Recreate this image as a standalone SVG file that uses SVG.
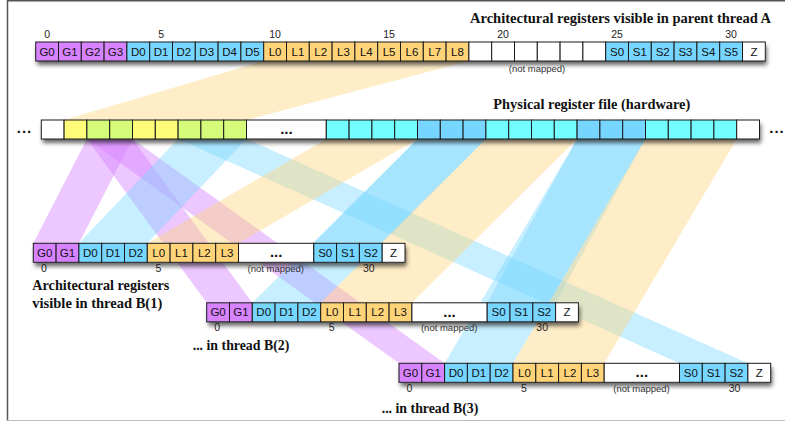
<svg xmlns="http://www.w3.org/2000/svg" width="785" height="425" viewBox="0 0 785 425">
<defs>
<filter id="sh" x="-5%" y="-60%" width="112%" height="260%">
<feDropShadow dx="1.5" dy="4" stdDeviation="2.2" flood-color="#000" flood-opacity="0.6"/>
</filter>
</defs>
<style>
.c rect{stroke:#1a1a1a;stroke-width:1}
.G{fill:#d783ff}.D{fill:#76d6ff}.L{fill:#ffd479}.W{fill:#fff}.Y{fill:#fffc79}.N{fill:#d4fb79}.C{fill:#73fdff}
.t{font-family:"Liberation Sans",Arial,sans-serif;font-size:11.5px;text-anchor:middle;fill:#111}
.n{font-family:"Liberation Sans",Arial,sans-serif;font-size:10.5px;text-anchor:middle;fill:#222}
.nm{font-family:"Liberation Sans",Arial,sans-serif;font-size:9.5px;text-anchor:middle;fill:#333}
.h{font-family:"Liberation Serif","Times New Roman",serif;font-weight:bold;font-size:14px;fill:#111}
.dots{font-family:"Liberation Sans",Arial,sans-serif;font-weight:bold;font-size:15px;text-anchor:middle;fill:#111}
.bp{fill:#d783ff;fill-opacity:0.45}
.bb{fill:#76d6ff;fill-opacity:0.4}
.bo{fill:#ffd479;fill-opacity:0.42}
</style>

<g id="frame" fill="none">
<path d="M7.5,421 V0.8 H785" stroke="#555" stroke-width="1.5"/>
<line x1="7" y1="420.5" x2="785" y2="420.5" stroke="#bbb" stroke-width="1"/>
</g>

<g id="connectors">
<polygon class="bo" points="263.7,61 468.9,61 246.5,120 64.1,120"/>
<polygon class="bp" points="86.9,139 132.5,139 78.9,243.3 33.3,243.3"/>
<polygon class="bp" points="86.9,139 132.5,139 252.3,302.8 206.7,302.8"/>
<polygon class="bp" points="86.9,139 132.5,139 444.6,363.3 399,363.3"/>
<polygon class="bb" points="178.1,139 246.5,139 147.3,243.3 78.9,243.3"/>
<polygon class="bb" points="178.1,139 246.5,139 747.9,363.3 679.5,363.3"/>
<polygon class="bb" points="417.5,139 485.9,139 382.2,243.3 313.8,243.3"/>
<polygon class="bb" points="417.5,139 485.9,139 320.7,302.8 252.3,302.8"/>
<polygon class="bb" points="577.1,139 645.5,139 555.6,302.8 487.2,302.8"/>
<polygon class="bb" points="577.1,139 645.5,139 513,363.3 444.6,363.3"/>
<polygon class="bo" points="326.3,139 417.5,139 238.5,243.3 147.3,243.3"/>
<polygon class="bo" points="485.9,139 577.1,139 411.9,302.8 320.7,302.8"/>
<polygon class="bo" points="645.5,139 736.7,139 604.2,363.3 513,363.3"/>
</g>

<g id="rowA">
<text class="h" x="470" y="23.3" textLength="301" lengthAdjust="spacingAndGlyphs">Architectural registers visible in parent thread A</text>
<rect class="W" x="35.7" y="42" width="729.6" height="19" filter="url(#sh)"/>
<g class="c">
<rect class="G" x="35.7" y="42" width="22.8" height="19"/>
<rect class="G" x="58.5" y="42" width="22.8" height="19"/>
<rect class="G" x="81.3" y="42" width="22.8" height="19"/>
<rect class="G" x="104.1" y="42" width="22.8" height="19"/>
<rect class="D" x="126.9" y="42" width="22.8" height="19"/>
<rect class="D" x="149.7" y="42" width="22.8" height="19"/>
<rect class="D" x="172.5" y="42" width="22.8" height="19"/>
<rect class="D" x="195.3" y="42" width="22.8" height="19"/>
<rect class="D" x="218.1" y="42" width="22.8" height="19"/>
<rect class="D" x="240.9" y="42" width="22.8" height="19"/>
<rect class="L" x="263.7" y="42" width="22.8" height="19"/>
<rect class="L" x="286.5" y="42" width="22.8" height="19"/>
<rect class="L" x="309.3" y="42" width="22.8" height="19"/>
<rect class="L" x="332.1" y="42" width="22.8" height="19"/>
<rect class="L" x="354.9" y="42" width="22.8" height="19"/>
<rect class="L" x="377.7" y="42" width="22.8" height="19"/>
<rect class="L" x="400.5" y="42" width="22.8" height="19"/>
<rect class="L" x="423.3" y="42" width="22.8" height="19"/>
<rect class="L" x="446.1" y="42" width="22.8" height="19"/>
<rect class="W" x="468.9" y="42" width="22.8" height="19"/>
<rect class="W" x="491.7" y="42" width="22.8" height="19"/>
<rect class="W" x="514.5" y="42" width="22.8" height="19"/>
<rect class="W" x="537.3" y="42" width="22.8" height="19"/>
<rect class="W" x="560.1" y="42" width="22.8" height="19"/>
<rect class="W" x="582.9" y="42" width="22.8" height="19"/>
<rect class="D" x="605.7" y="42" width="22.8" height="19"/>
<rect class="D" x="628.5" y="42" width="22.8" height="19"/>
<rect class="D" x="651.3" y="42" width="22.8" height="19"/>
<rect class="D" x="674.1" y="42" width="22.8" height="19"/>
<rect class="D" x="696.9" y="42" width="22.8" height="19"/>
<rect class="D" x="719.7" y="42" width="22.8" height="19"/>
<rect class="W" x="742.5" y="42" width="22.8" height="19"/>
</g>
<g class="t">
<text x="47.1" y="55.5">G0</text><text x="69.9" y="55.5">G1</text><text x="92.7" y="55.5">G2</text><text x="115.5" y="55.5">G3</text>
<text x="138.3" y="55.5">D0</text><text x="161.1" y="55.5">D1</text><text x="183.9" y="55.5">D2</text><text x="206.7" y="55.5">D3</text><text x="229.5" y="55.5">D4</text><text x="252.3" y="55.5">D5</text>
<text x="275.1" y="55.5">L0</text><text x="297.9" y="55.5">L1</text><text x="320.7" y="55.5">L2</text><text x="343.5" y="55.5">L3</text><text x="366.3" y="55.5">L4</text><text x="389.1" y="55.5">L5</text><text x="411.9" y="55.5">L6</text><text x="434.7" y="55.5">L7</text><text x="457.5" y="55.5">L8</text>
<text x="617.1" y="55.5">S0</text><text x="639.9" y="55.5">S1</text><text x="662.7" y="55.5">S2</text><text x="685.5" y="55.5">S3</text><text x="708.3" y="55.5">S4</text><text x="731.1" y="55.5">S5</text>
<text x="753.9" y="55.5">Z</text>
</g>
<g class="n">
<text x="47.1" y="37.7">0</text><text x="161.1" y="37.7">5</text><text x="275.1" y="37.7">10</text><text x="389.1" y="37.7">15</text><text x="503.1" y="37.7">20</text><text x="617.1" y="37.7">25</text><text x="731.1" y="37.7">30</text>
</g>
<text class="nm" x="537" y="71.7">(not mapped)</text>
</g>

<g id="physical">
<text class="h" x="493.3" y="109" textLength="197" lengthAdjust="spacingAndGlyphs">Physical register file (hardware)</text>
<text class="dots" x="24.5" y="133" letter-spacing="1">...</text>
<text class="dots" x="777" y="133" letter-spacing="1">...</text>
<rect class="W" x="41.3" y="120" width="718.2" height="19" filter="url(#sh)"/>
<g class="c">
<rect class="W" x="41.3" y="120" width="22.8" height="19"/>
<rect class="Y" x="64.1" y="120" width="22.8" height="19"/>
<rect class="N" x="86.9" y="120" width="22.8" height="19"/>
<rect class="N" x="109.7" y="120" width="22.8" height="19"/>
<rect class="Y" x="132.5" y="120" width="22.8" height="19"/>
<rect class="Y" x="155.3" y="120" width="22.8" height="19"/>
<rect class="N" x="178.1" y="120" width="22.8" height="19"/>
<rect class="N" x="200.9" y="120" width="22.8" height="19"/>
<rect class="N" x="223.7" y="120" width="22.8" height="19"/>
<rect class="W" x="246.5" y="120" width="79.8" height="19"/>
<rect class="C" x="326.3" y="120" width="22.8" height="19"/>
<rect class="C" x="349.1" y="120" width="22.8" height="19"/>
<rect class="C" x="371.9" y="120" width="22.8" height="19"/>
<rect class="C" x="394.7" y="120" width="22.8" height="19"/>
<rect class="D" x="417.5" y="120" width="22.8" height="19"/>
<rect class="D" x="440.3" y="120" width="22.8" height="19"/>
<rect class="D" x="463.1" y="120" width="22.8" height="19"/>
<rect class="C" x="485.9" y="120" width="22.8" height="19"/>
<rect class="C" x="508.7" y="120" width="22.8" height="19"/>
<rect class="C" x="531.5" y="120" width="22.8" height="19"/>
<rect class="C" x="554.3" y="120" width="22.8" height="19"/>
<rect class="D" x="577.1" y="120" width="22.8" height="19"/>
<rect class="D" x="599.9" y="120" width="22.8" height="19"/>
<rect class="D" x="622.7" y="120" width="22.8" height="19"/>
<rect class="C" x="645.5" y="120" width="22.8" height="19"/>
<rect class="C" x="668.3" y="120" width="22.8" height="19"/>
<rect class="C" x="691.1" y="120" width="22.8" height="19"/>
<rect class="C" x="713.9" y="120" width="22.8" height="19"/>
<rect class="W" x="736.7" y="120" width="22.8" height="19"/>
</g>
<text class="dots" x="286.4" y="134">...</text>
</g>

<g id="rowB1" transform="translate(33.3,243.3)">
<rect class="W" width="371.7" height="19" filter="url(#sh)"/>
<g class="c">
<rect class="G" x="0" width="22.8" height="19"/><rect class="G" x="22.8" width="22.8" height="19"/>
<rect class="D" x="45.6" width="22.8" height="19"/><rect class="D" x="68.4" width="22.8" height="19"/><rect class="D" x="91.2" width="22.8" height="19"/>
<rect class="L" x="114" width="22.8" height="19"/><rect class="L" x="136.8" width="22.8" height="19"/><rect class="L" x="159.6" width="22.8" height="19"/><rect class="L" x="182.4" width="22.8" height="19"/>
<rect class="W" x="205.2" width="75.3" height="19"/>
<rect class="D" x="280.5" width="22.8" height="19"/><rect class="D" x="303.3" width="22.8" height="19"/><rect class="D" x="326.1" width="22.8" height="19"/>
<rect class="W" x="348.9" width="22.8" height="19"/>
</g>
<g class="t">
<text x="11.4" y="13.5">G0</text><text x="34.2" y="13.5">G1</text><text x="57" y="13.5">D0</text><text x="79.8" y="13.5">D1</text><text x="102.6" y="13.5">D2</text>
<text x="125.4" y="13.5">L0</text><text x="148.2" y="13.5">L1</text><text x="171" y="13.5">L2</text><text x="193.8" y="13.5">L3</text>
<text x="291.9" y="13.5">S0</text><text x="314.7" y="13.5">S1</text><text x="337.5" y="13.5">S2</text><text x="360.3" y="13.5">Z</text>
</g>
<text class="dots" x="242.85" y="14">...</text>
<g class="n"><text x="10.5" y="28.5">0</text><text x="125" y="28.5">5</text><text x="335.5" y="28.5">30</text></g>
<text class="nm" x="242.5" y="28.5">(not mapped)</text>
</g>
<g id="labelB1">
<text class="h" x="32.3" y="289.7" textLength="137" lengthAdjust="spacingAndGlyphs">Architectural registers</text>
<text class="h" x="32.3" y="308" textLength="130" lengthAdjust="spacingAndGlyphs">visible in thread B(1)</text>
</g>

<g id="rowB2" transform="translate(206.7,302.8)">
<rect class="W" width="371.7" height="19" filter="url(#sh)"/>
<g class="c">
<rect class="G" x="0" width="22.8" height="19"/><rect class="G" x="22.8" width="22.8" height="19"/>
<rect class="D" x="45.6" width="22.8" height="19"/><rect class="D" x="68.4" width="22.8" height="19"/><rect class="D" x="91.2" width="22.8" height="19"/>
<rect class="L" x="114" width="22.8" height="19"/><rect class="L" x="136.8" width="22.8" height="19"/><rect class="L" x="159.6" width="22.8" height="19"/><rect class="L" x="182.4" width="22.8" height="19"/>
<rect class="W" x="205.2" width="75.3" height="19"/>
<rect class="D" x="280.5" width="22.8" height="19"/><rect class="D" x="303.3" width="22.8" height="19"/><rect class="D" x="326.1" width="22.8" height="19"/>
<rect class="W" x="348.9" width="22.8" height="19"/>
</g>
<g class="t">
<text x="11.4" y="13.5">G0</text><text x="34.2" y="13.5">G1</text><text x="57" y="13.5">D0</text><text x="79.8" y="13.5">D1</text><text x="102.6" y="13.5">D2</text>
<text x="125.4" y="13.5">L0</text><text x="148.2" y="13.5">L1</text><text x="171" y="13.5">L2</text><text x="193.8" y="13.5">L3</text>
<text x="291.9" y="13.5">S0</text><text x="314.7" y="13.5">S1</text><text x="337.5" y="13.5">S2</text><text x="360.3" y="13.5">Z</text>
</g>
<text class="dots" x="242.85" y="14">...</text>
<g class="n"><text x="10.5" y="28.5">0</text><text x="125" y="28.5">5</text><text x="335.5" y="28.5">30</text></g>
<text class="nm" x="242.5" y="28.5">(not mapped)</text>
</g>
<g id="labelB2">
<text class="h" x="192.7" y="349.7" textLength="96.6" lengthAdjust="spacingAndGlyphs">... in thread B(2)</text>
</g>

<g id="rowB3" transform="translate(399,363.3)">
<rect class="W" width="371.7" height="19" filter="url(#sh)"/>
<g class="c">
<rect class="G" x="0" width="22.8" height="19"/><rect class="G" x="22.8" width="22.8" height="19"/>
<rect class="D" x="45.6" width="22.8" height="19"/><rect class="D" x="68.4" width="22.8" height="19"/><rect class="D" x="91.2" width="22.8" height="19"/>
<rect class="L" x="114" width="22.8" height="19"/><rect class="L" x="136.8" width="22.8" height="19"/><rect class="L" x="159.6" width="22.8" height="19"/><rect class="L" x="182.4" width="22.8" height="19"/>
<rect class="W" x="205.2" width="75.3" height="19"/>
<rect class="D" x="280.5" width="22.8" height="19"/><rect class="D" x="303.3" width="22.8" height="19"/><rect class="D" x="326.1" width="22.8" height="19"/>
<rect class="W" x="348.9" width="22.8" height="19"/>
</g>
<g class="t">
<text x="11.4" y="13.5">G0</text><text x="34.2" y="13.5">G1</text><text x="57" y="13.5">D0</text><text x="79.8" y="13.5">D1</text><text x="102.6" y="13.5">D2</text>
<text x="125.4" y="13.5">L0</text><text x="148.2" y="13.5">L1</text><text x="171" y="13.5">L2</text><text x="193.8" y="13.5">L3</text>
<text x="291.9" y="13.5">S0</text><text x="314.7" y="13.5">S1</text><text x="337.5" y="13.5">S2</text><text x="360.3" y="13.5">Z</text>
</g>
<text class="dots" x="242.85" y="14">...</text>
<g class="n"><text x="10.5" y="28.5">0</text><text x="125" y="28.5">5</text><text x="335.5" y="28.5">30</text></g>
<text class="nm" x="242.5" y="28.5">(not mapped)</text>
</g>
<g id="labelB3">
<text class="h" x="381.7" y="413.3" textLength="96.6" lengthAdjust="spacingAndGlyphs">... in thread B(3)</text>
</g>
</svg>
